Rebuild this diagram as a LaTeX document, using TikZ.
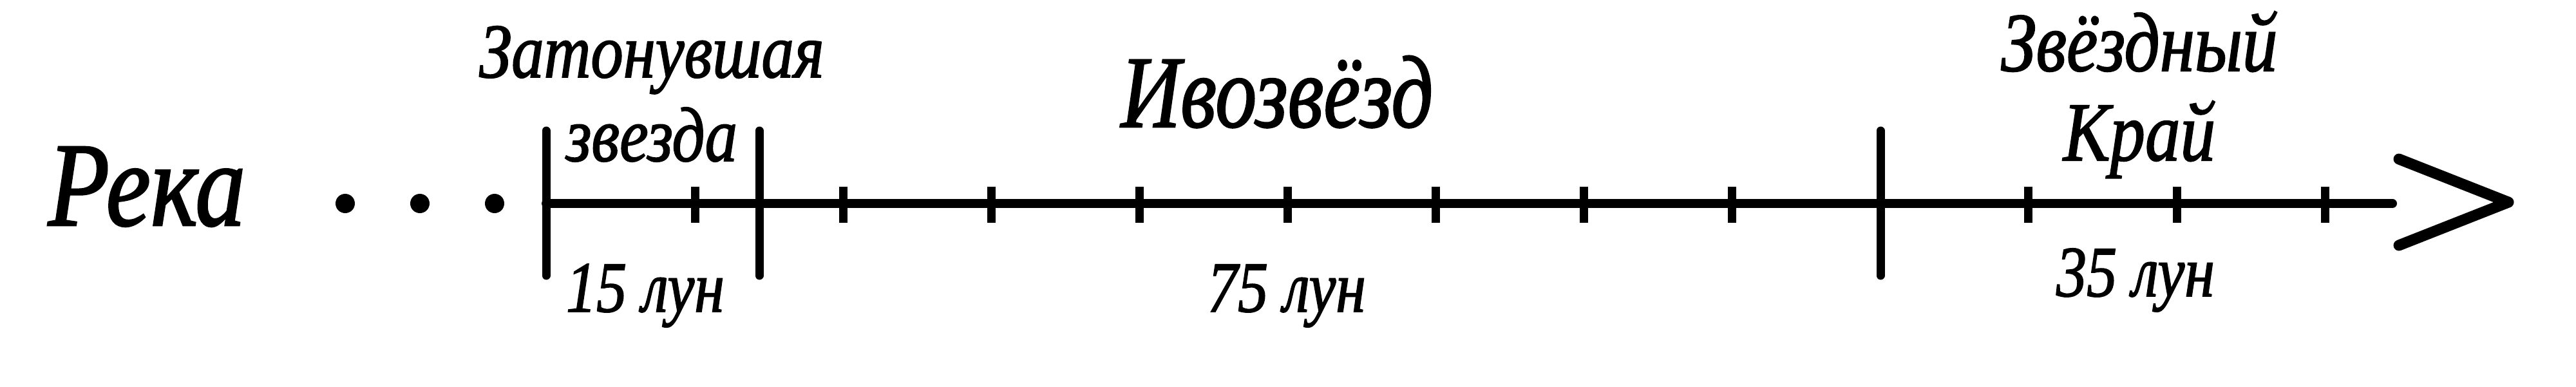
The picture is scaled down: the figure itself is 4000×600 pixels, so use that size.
\documentclass[tikz,border=0pt]{standalone}
\usepackage{fontspec}
\setmainfont{Liberation Serif}[ItalicFeatures={FakeBold=1.6}]
\usepackage{tikz}
\tikzstyle{timeline}=[line width=14pt,line cap=round,black]
\tikzstyle{bound}=[line width=13pt,line cap=round,black]
\tikzstyle{notch}=[line width=13pt,black]
\tikzstyle{chevron}=[line width=17pt,line cap=round,line join=round,black]
\tikzstyle{era}=[inner sep=0pt,anchor=base,align=center,xscale=0.84,black]
\newcommand{\efont}[2]{\fontsize{#1}{#2}\selectfont\itshape}

\begin{document}
\begin{tikzpicture}[x=1pt,y=-1pt]
	\useasboundingbox (0,0) rectangle (4000,600);
	% the river and the dots before the line
	\node[era,font=\efont{186}{186}] (river) at (228,350) {Река};
	\foreach \x/\name in {536/d1, 652/d2, 768/d3}
		\fill (\x,316) circle (15pt) coordinate (\name);
	% main line with its arrow head
	\coordinate (start) at (848,316);
	\coordinate (end) at (3715,316);
	\draw[timeline] (start) -- (end);
	\draw[chevron] (3725,247) -- (3895,314) -- (3725,381);
	% era boundaries
	\foreach \x/\name in {848/b1, 1179/b2, 2920/b3}
		\draw[bound] (\x,203) coordinate (\name) -- (\x,428);
	% one notch every five moons
	\foreach \x in {1079,1309,1539,1769,1999,2229,2459,2689,3149,3380,3610}
		\draw[notch] (\x,290) -- (\x,346);
	% era names (base = last line)
	\node[era,font=\efont{120}{130}] (sunk) at (1012,250) {Затонувшая\\звезда};
	\node[era,font=\efont{159}{159},xscale=0.96] (willow) at (1983,197) {Ивозвёзд};
	\node[era,font=\efont{130}{139}] (edge) at (3322,249) {Звёздный\\Край};
	% lengths
	\node[era,font=\efont{112}{112}] (len1) at (1002,484) {15 лун};
	\node[era,font=\efont{112}{112}] (len2) at (1998,484) {75 лун};
	\node[era,font=\efont{112}{112}] (len3) at (3316,460) {35 лун};
\end{tikzpicture}
\end{document}
